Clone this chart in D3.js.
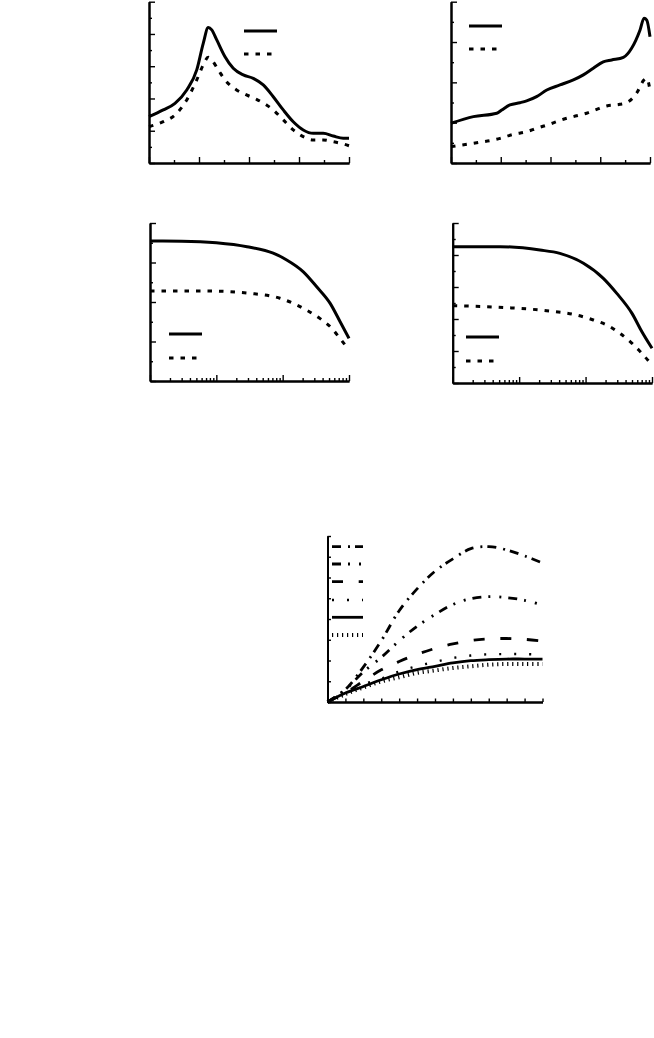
<!DOCTYPE html>
<html><head><meta charset="utf-8">
<script src="https://cdn.jsdelivr.net/npm/d3@7"></script>
<style>
html,body{margin:0;padding:0;background:#fff;}
svg{display:block;}
.ax path.domain{stroke:#000;stroke-width:2;}
.ax line{stroke:#000;stroke-width:1.4;}
.ln{fill:none;stroke:#000;}
</style></head>
<body>
<script>
// ---- Panel A (top-left) ----
const aSolidX = [0,0.57,1.04,1.51,1.91,2.17,2.37,2.51,2.71,3.04,3.37,3.77,4.17,4.57,4.97,5.37,5.77,6.17,6.57,6.97,7.37,7.77,8.0];
const aSolidY = [2.87,3.29,3.70,4.53,5.77,7.42,8.40,8.25,7.63,6.59,5.87,5.46,5.25,4.84,4.11,3.29,2.56,2.05,1.84,1.84,1.67,1.53,1.53];
const aDashX  = [0,0.57,1.04,1.51,1.91,2.17,2.37,2.51,2.77,3.1,3.5,3.9,4.3,4.7,4.97,5.37,5.77,6.17,6.57,6.97,7.37,7.77,8.0];
const aDashY  = [2.25,2.56,2.98,3.91,5.15,6.08,6.55,6.39,5.77,5.04,4.53,4.22,3.95,3.60,3.29,2.67,2.05,1.63,1.43,1.43,1.32,1.18,1.07];
// ---- Panel B (top-right) ----
const bSolidX = [0,0.9,1.84,2.04,2.37,2.77,3.04,3.44,3.85,4.38,4.92,5.32,5.72,6.12,6.46,6.93,7.26,7.6,7.76,7.87,8.0];
const bSolidY = [1.97,2.30,2.47,2.63,2.88,2.99,3.08,3.29,3.62,3.87,4.12,4.37,4.70,5.02,5.11,5.24,5.69,6.60,7.18,7.09,6.26];
const bDashX  = [0,0.9,1.97,2.5,3.04,3.44,3.98,4.52,4.92,5.45,5.86,6.26,6.79,7.13,7.46,7.76,7.87,8.0];
const bDashY  = [0.81,0.98,1.22,1.42,1.55,1.72,1.93,2.17,2.30,2.47,2.66,2.83,2.91,3.04,3.46,4.12,4.20,3.62];
// ---- Panel C (bottom-left, log x) ----
const cSolidX = [1,3,10,29,72,115,205,326,520,735,1000];
const cSolidY = [7.09,7.08,7.0,6.8,6.47,6.13,5.53,4.77,3.93,3.0,2.16];
const cDashX  = [1,7.1,32,91,144,229,363,550,730,1000];
const cDashY  = [4.56,4.56,4.44,4.19,3.93,3.59,3.17,2.67,2.16,1.57];
// ---- Panel D (bottom-right, log x) ----
const dSolidX = [1,5.2,20.6,41,93,185,295,500,705,1000];
const dSolidY = [8.52,8.52,8.31,8.1,7.48,6.54,5.6,4.35,3.2,2.17];
const dDashX  = [1,6.5,26,66,131,208,330,500,705,1000];
const dDashY  = [4.83,4.71,4.52,4.29,3.94,3.63,3.10,2.48,1.85,1.12];
// ---- Panel E (bottom centre) ----
const eX  = [0,1,2,3,4,5,6,7,8,9,10,11,12];
const eS1 = [0,0.6,1.68,2.95,4.4,5.45,6.3,6.9,7.39,7.49,7.33,7.04,6.7];
const eS2 = [0,0.6,1.45,2.15,2.95,3.65,4.22,4.7,4.98,5.08,5.03,4.9,4.67];
const eS3 = [0,0.45,1.0,1.55,1.95,2.3,2.58,2.8,2.96,3.04,3.06,3.02,2.94];
const eS4 = [0,0.45,0.85,1.12,1.47,1.73,1.93,2.12,2.24,2.30,2.31,2.31,2.28];
const eS5 = [0,0.43,0.75,1.07,1.35,1.56,1.72,1.88,1.99,2.04,2.07,2.07,2.07];
const eS6 = [0,0.38,0.7,0.99,1.19,1.40,1.52,1.64,1.72,1.80,1.83,1.83,1.83];

const DASH = "4.5 7";
const eStyles = [
  {dash:"9 7 2 5", w:2.8},
  {dash:"9 7 2 9 2 7", w:2.8},
  {dash:"11 15.7", w:2.8},
  {dash:"2 13", w:2.4},
  {dash:null, w:2.8},
  {dash:"1.2 3.8", w:4}
];

const svg = d3.select("body").append("svg").attr("width",654).attr("height",1038);

function range(a,b,s){const r=[];for(let v=a;v<=b+1e-9;v+=s)r.push(+v.toFixed(6));return r;}

function linAxes(x, y, xN, yN, xEvenMajor, yEvenMajor, majLen, minLen){
  const [x0] = x.range(); const [y0] = y.range();
  const xd = x.domain(), yd = y.domain();
  const xs = (xd[1]-xd[0])/xN, ys = (yd[1]-yd[0])/yN;
  const xv = range(xd[0],xd[1],xs), yv = range(yd[0],yd[1],ys);
  const xMaj = xv.filter((v,i)=> xEvenMajor ? i%2===0 : true);
  const xMin = xv.filter((v,i)=> xEvenMajor ? i%2===1 : false);
  const yMaj = yv.filter((v,i)=> yEvenMajor ? i%2===0 : true);
  const yMin = yv.filter((v,i)=> yEvenMajor ? i%2===1 : false);
  svg.append("g").attr("class","ax").attr("transform",`translate(0,${y0})`)
    .call(d3.axisTop(x).tickValues(xMin).tickSize(minLen).tickSizeOuter(0).tickFormat(""));
  svg.append("g").attr("class","ax").attr("transform",`translate(0,${y0})`)
    .call(d3.axisTop(x).tickValues(xMaj).tickSize(majLen).tickSizeOuter(0).tickFormat(""));
  svg.append("g").attr("class","ax").attr("transform",`translate(${x0},0)`)
    .call(d3.axisRight(y).tickValues(yMin).tickSize(minLen).tickSizeOuter(0).tickFormat(""));
  svg.append("g").attr("class","ax").attr("transform",`translate(${x0},0)`)
    .call(d3.axisRight(y).tickValues(yMaj).tickSize(majLen).tickSizeOuter(0).tickFormat(""));
}

function logAxes(x, y, yN){
  const [x0] = x.range(); const [y0] = y.range();
  const maj = [1,10,100,1000];
  const minr = [];
  [1,10,100].forEach(d=>{for(let k=2;k<=9;k++)minr.push(d*k);});
  svg.append("g").attr("class","ax").attr("transform",`translate(0,${y0})`)
    .call(d3.axisTop(x).tickValues(minr).tickSize(3).tickSizeOuter(0).tickFormat(""));
  svg.append("g").attr("class","ax").attr("transform",`translate(0,${y0})`)
    .call(d3.axisTop(x).tickValues(maj).tickSize(6).tickSizeOuter(0).tickFormat(""));
  const yd = y.domain(); const ys=(yd[1]-yd[0])/yN;
  const yv = range(yd[0],yd[1],ys);
  svg.append("g").attr("class","ax").attr("transform",`translate(${x0},0)`)
    .call(d3.axisRight(y).tickValues(yv.filter((v,i)=>i%2===1)).tickSize(3).tickSizeOuter(0).tickFormat(""));
  svg.append("g").attr("class","ax").attr("transform",`translate(${x0},0)`)
    .call(d3.axisRight(y).tickValues(yv.filter((v,i)=>i%2===0)).tickSize(6).tickSizeOuter(0).tickFormat(""));
}

function drawLine(x, y, xs, ys, dash, w, curve){
  const pts = xs.map((v,i)=>[v, ys[i]]);
  const line = d3.line().x(d=>x(d[0])).y(d=>y(d[1])).curve(curve || d3.curveMonotoneX);
  const p = svg.append("path").attr("class","ln").attr("d", line(pts)).attr("stroke-width", w);
  if(dash) p.attr("stroke-dasharray", dash);
}

function legend(x1, x2, yy, dash, w){
  const p = svg.append("line").attr("x1",x1).attr("x2",x2).attr("y1",yy).attr("y2",yy)
    .attr("stroke","#000").attr("stroke-width",w);
  if(dash) p.attr("stroke-dasharray",dash);
}

// Panel A
{
  const x = d3.scaleLinear().domain([0,8]).range([149,349]);
  const y = d3.scaleLinear().domain([0,10]).range([163,1.7]);
  linAxes(x,y,8,10,true,true,6,3);
  drawLine(x,y,aSolidX,aSolidY,null,3);
  drawLine(x,y,aDashX,aDashY,DASH,3);
  legend(244,277,31,null,3);
  legend(244,273,54,DASH,3);
}
// Panel B
{
  const x = d3.scaleLinear().domain([0,8]).range([451,650]);
  const y = d3.scaleLinear().domain([0,8]).range([163,1.7]);
  linAxes(x,y,8,8,true,true,6,3);
  drawLine(x,y,bSolidX,bSolidY,null,3);
  drawLine(x,y,bDashX,bDashY,DASH,3);
  legend(469,502,26,null,3);
  legend(469,498,49,DASH,3);
}
// Panel C
{
  const x = d3.scaleLog().domain([1,1000]).range([150,349]);
  const y = d3.scaleLinear().domain([0,8]).range([381,223]);
  logAxes(x,y,8);
  drawLine(x,y,cSolidX,cSolidY,null,3);
  drawLine(x,y,cDashX,cDashY,DASH,3);
  legend(169,202,334,null,3);
  legend(169,198,358,DASH,3);
}
// Panel D
{
  const x = d3.scaleLog().domain([1,1000]).range([452.7,652]);
  const y = d3.scaleLinear().domain([0,10]).range([383,223]);
  logAxes(x,y,10);
  drawLine(x,y,dSolidX,dSolidY,null,3);
  drawLine(x,y,dDashX,dDashY,DASH,3);
  legend(466,499,337,null,3);
  legend(466,494,361,DASH,3);
}
// Panel E
{
  const x = d3.scaleLinear().domain([0,12]).range([327.5,542.5]);
  const y = d3.scaleLinear().domain([0,8]).range([702,536]);
  linAxes(x,y,12,8,false,false,3.5,3.5);
  const series = [eS1,eS2,eS3,eS4,eS5,eS6];
  series.forEach((s,i)=> drawLine(x,y,eX,s,eStyles[i].dash,eStyles[i].w, d3.curveCatmullRom));
  const ly = [546.7,564,581.7,600,617.3,635];
  eStyles.forEach((st,i)=> legend(332,363,ly[i],st.dash,st.w));
}
</script>
</body></html>
